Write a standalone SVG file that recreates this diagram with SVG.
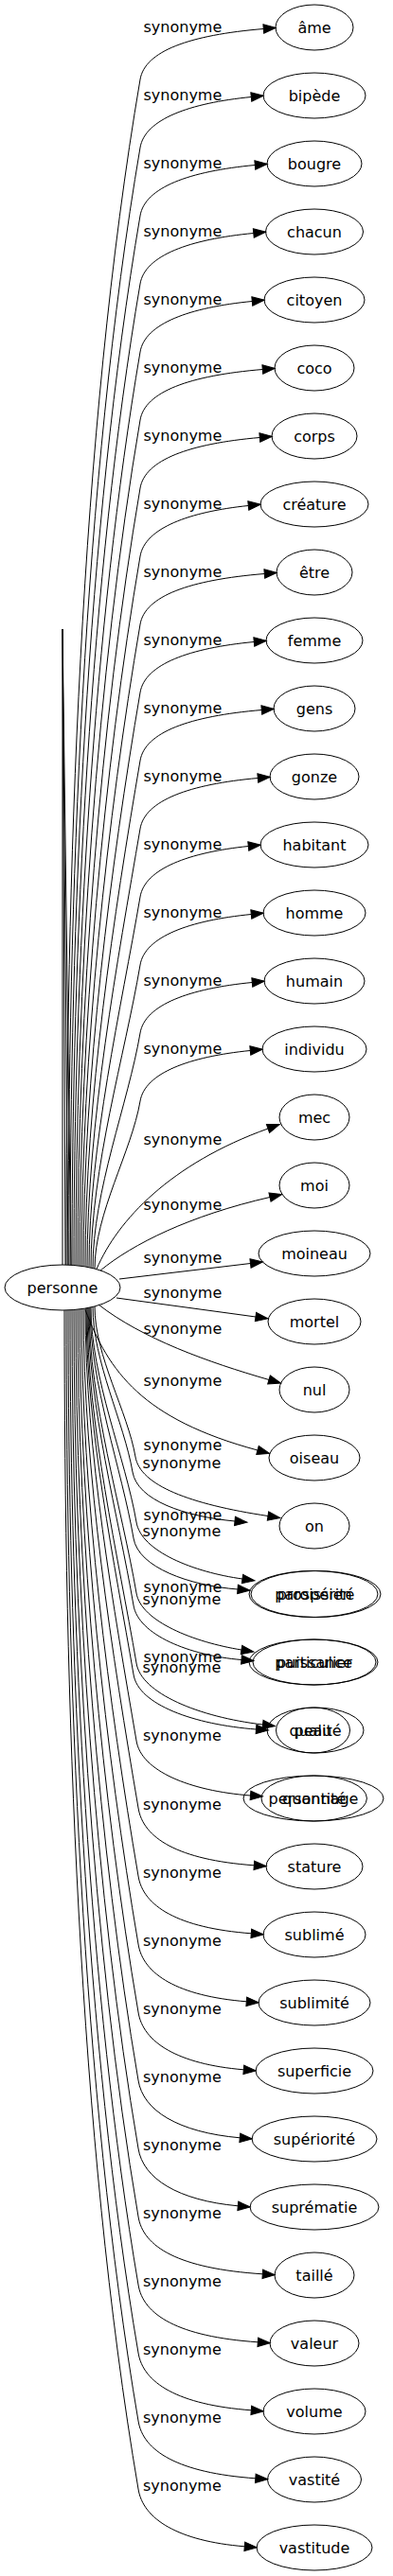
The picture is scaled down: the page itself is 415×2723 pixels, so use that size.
<svg xmlns="http://www.w3.org/2000/svg" width="415" height="2723" viewBox="0 0 415 2723">
<style>
text{font-family:"DejaVu Sans",sans-serif;font-size:16px;fill:#000}
.n ellipse{fill:none;stroke:#000;stroke-width:1}
.n text{text-anchor:middle}
.e{fill:none;stroke:#000;stroke-width:1;marker-end:url(#ah)}
.w{fill:none;stroke:#000;stroke-width:1}
.l{text-anchor:start}
</style>
<defs>
<marker id="ah" viewBox="0 -6 15 12" refX="0" refY="0" markerWidth="15" markerHeight="12" markerUnits="userSpaceOnUse" orient="auto" overflow="visible"><path d="M0,-4.7 L13,0 L0,4.7 z" fill="#000" stroke="#000" stroke-width="1"/></marker>
</defs>
<rect width="415" height="2723" fill="#fff"/>
<g id="connectors">
<path class="w" d="M66,665 L66,1337"/>
<path class="w" d="M66,665 L69,1337"/>
<path class="w" d="M66,665 L72,1337"/>
<path class="w" d="M66,665 L75,1337.3"/>
<path class="e" d="M70,1337 C70,923.5 84.1,459.9 148,84 C153,54 200,37 278.3,30.5"/>
<path class="e" d="M72,1337 C72,947.3 87.8,510.3 148,156 C153,126 200,109 265.3,102.5"/>
<path class="e" d="M74,1337 C74,971 91.4,560.7 148,228 C153,198 200,181 269.3,174.5"/>
<path class="e" d="M76,1337.3 C76,994.8 95.1,611.1 148,300 C153,270 200,253 267.8,246.5"/>
<path class="e" d="M78,1337.5 C78,1018.9 98.8,661.7 148,372 C153,342 200,325 266.3,318.5"/>
<path class="e" d="M80,1337.6 C80,1042.7 102.4,712.1 148,444 C153,414 200,397 277.3,390.5"/>
<path class="e" d="M82,1337.8 C82,1066.6 106.1,762.5 148,516 C153,486 200,469 274.3,462.5"/>
<path class="e" d="M84,1338.1 C84,1090.6 109.7,813 148,588 C153,558 200,541 262.3,534.5"/>
<path class="e" d="M86,1338.3 C86,1114.5 113.4,863.5 148,660 C153,630 200,613 279.3,606.5"/>
<path class="e" d="M88,1338.6 C88,1138.4 117.1,914 148,732 C153,702 200,685 268.3,678.5"/>
<path class="e" d="M90,1338.9 C90,1162.4 120.7,964.5 148,804 C153,774 200,757 276.3,750.5"/>
<path class="e" d="M92,1339.3 C92,1186.4 124.4,1015 148,876 C153,846 200,829 272.3,822.5"/>
<path class="e" d="M94,1339.7 C94,1210.4 128,1065.5 148,948 C153,918 200,901 262.3,894.5"/>
<path class="e" d="M96,1340.1 C96,1234.5 131.7,1116 148,1020 C153,990 200,973 265.3,966.5"/>
<path class="e" d="M98,1340.6 C98,1258.6 135.3,1166.6 148,1092 C153,1062 200,1045 266.3,1038.5"/>
<path class="e" d="M100,1341.1 C100,1282.7 139,1217.1 148,1164 C153,1134 200,1117 264.3,1110.5"/>
<path class="e" d="M102,1341.5 C124,1290 180,1230 283,1193"/>
<path class="e" d="M106,1343 C140,1315 200,1285 285,1265.5"/>
<path class="e" d="M126,1352 L264.5,1335.5"/>
<path class="e" d="M123,1372 L270,1392"/>
<path class="e" d="M104,1379 C150,1415 220,1440 284,1458.5"/>
<path class="e" d="M90,1384.5 C115,1450 150,1500 272,1533"/>
<path class="e" d="M100,1380.9 C100,1433.4 134.9,1492.3 143,1540 C148,1570 200,1590 283,1602.5"/>
<path class="e" d="M98,1381.4 C98,1439 131.1,1503.6 140,1556 C145,1586 195,1603 248,1608"/>
<path class="e" d="M96,1381.9 C96,1456.8 132.4,1540.9 144,1609 C149,1640 205,1662 256,1669"/>
<path class="e" d="M95,1382.1 C95,1462.6 128.6,1552.8 141,1626 C146,1657 200,1676 251,1680"/>
<path class="e" d="M94,1382.3 C94,1481.9 128.6,1593.5 144,1684 C149,1714 205,1736 255,1744"/>
<path class="e" d="M93,1382.5 C93,1486.3 125,1602.6 141,1697 C146,1728 200,1750 255,1754.5"/>
<path class="e" d="M92,1382.7 C92,1506.5 124.9,1645.4 144,1758 C149,1790 210,1815 277.5,1823"/>
<path class="e" d="M91,1382.9 C91,1510.6 121.3,1653.9 141,1770 C146,1802 205,1823 270.5,1828"/>
<path class="e" d="M90,1383.1 C90,1533.9 120.7,1702.9 144,1840 C149,1872 200,1893 264.5,1898"/>
<path class="e" d="M88,1383.4 C88,1557.5 119.1,1752.7 146,1911 C151,1943 188,1966 268.3,1971.8"/>
<path class="e" d="M86,1383.7 C86,1581.5 115.4,1803.2 146,1983 C151,2015 188,2038 265.3,2043.8"/>
<path class="e" d="M84,1383.9 C84,1605.4 111.8,1853.7 146,2055 C151,2087 188,2110 260.3,2115.8"/>
<path class="e" d="M82,1384.2 C82,1629.3 108.1,1904.2 146,2127 C151,2159 188,2182 257.3,2187.8"/>
<path class="e" d="M80,1384.4 C80,1653.2 104.5,1954.6 146,2199 C151,2231 188,2254 253.3,2259.8"/>
<path class="e" d="M78,1384.5 C78,1677 100.8,2005 146,2271 C151,2303 188,2326 251.3,2331.8"/>
<path class="e" d="M76,1384.7 C76,1700.9 97.1,2055.5 146,2343 C151,2375 188,2398 277.3,2403.8"/>
<path class="e" d="M74,1384.8 C74,1724.8 93.5,2105.9 146,2415 C151,2447 188,2470 272.3,2475.8"/>
<path class="e" d="M72,1384.9 C72,1748.6 89.8,2156.4 146,2487 C151,2519 188,2542 265.3,2547.8"/>
<path class="e" d="M70,1385 C70,1772.4 86.1,2206.8 146,2559 C151,2591 188,2614 269.8,2619.8"/>
<path class="e" d="M68,1385 C68,1796.2 82.5,2257.2 146,2631 C151,2663 188,2686 258.3,2691.8"/>
<text class="l" x="151.5" y="34">synonyme</text>
<text class="l" x="151.5" y="106">synonyme</text>
<text class="l" x="151.5" y="178">synonyme</text>
<text class="l" x="151.5" y="250">synonyme</text>
<text class="l" x="151.5" y="322">synonyme</text>
<text class="l" x="151.5" y="394">synonyme</text>
<text class="l" x="151.5" y="466">synonyme</text>
<text class="l" x="151.5" y="538">synonyme</text>
<text class="l" x="151.5" y="610">synonyme</text>
<text class="l" x="151.5" y="682">synonyme</text>
<text class="l" x="151.5" y="754">synonyme</text>
<text class="l" x="151.5" y="826">synonyme</text>
<text class="l" x="151.5" y="898">synonyme</text>
<text class="l" x="151.5" y="970">synonyme</text>
<text class="l" x="151.5" y="1042">synonyme</text>
<text class="l" x="151.5" y="1114">synonyme</text>
<text class="l" x="151.5" y="1210">synonyme</text>
<text class="l" x="151.5" y="1279">synonyme</text>
<text class="l" x="151.5" y="1335">synonyme</text>
<text class="l" x="151.5" y="1372">synonyme</text>
<text class="l" x="151.5" y="1410">synonyme</text>
<text class="l" x="151.5" y="1465">synonyme</text>
<text class="l" x="151.5" y="1533">synonyme</text>
<text class="l" x="150.5" y="1552">synonyme</text>
<text class="l" x="151.5" y="1607">synonyme</text>
<text class="l" x="150.5" y="1624">synonyme</text>
<text class="l" x="151.5" y="1683">synonyme</text>
<text class="l" x="150.5" y="1696">synonyme</text>
<text class="l" x="151.5" y="1757">synonyme</text>
<text class="l" x="150.5" y="1768">synonyme</text>
<text class="l" x="151" y="1840">synonyme</text>
<text class="l" x="151" y="1913">synonyme</text>
<text class="l" x="151" y="1985">synonyme</text>
<text class="l" x="151" y="2057">synonyme</text>
<text class="l" x="151" y="2129">synonyme</text>
<text class="l" x="151" y="2201">synonyme</text>
<text class="l" x="151" y="2273">synonyme</text>
<text class="l" x="151" y="2345">synonyme</text>
<text class="l" x="151" y="2417">synonyme</text>
<text class="l" x="151" y="2489">synonyme</text>
<text class="l" x="151" y="2561">synonyme</text>
<text class="l" x="151" y="2633">synonyme</text>
</g>
<g id="personne" class="n"><ellipse cx="66" cy="1361" rx="61" ry="24"/><text x="66" y="1366.5">personne</text></g>
<g id="ame" class="n"><ellipse cx="332" cy="29" rx="41" ry="24"/><text x="332" y="34.5">âme</text></g>
<g id="bipede" class="n"><ellipse cx="332" cy="101" rx="54" ry="24"/><text x="332" y="106.5">bipède</text></g>
<g id="bougre" class="n"><ellipse cx="332" cy="173" rx="50" ry="24"/><text x="332" y="178.5">bougre</text></g>
<g id="chacun" class="n"><ellipse cx="332" cy="245" rx="51.5" ry="24"/><text x="332" y="250.5">chacun</text></g>
<g id="citoyen" class="n"><ellipse cx="332" cy="317" rx="53" ry="24"/><text x="332" y="322.5">citoyen</text></g>
<g id="coco" class="n"><ellipse cx="332" cy="389" rx="42" ry="24"/><text x="332" y="394.5">coco</text></g>
<g id="corps" class="n"><ellipse cx="332" cy="461" rx="45" ry="24"/><text x="332" y="466.5">corps</text></g>
<g id="creature" class="n"><ellipse cx="332" cy="533" rx="57" ry="24"/><text x="332" y="538.5">créature</text></g>
<g id="etre" class="n"><ellipse cx="332" cy="605" rx="40" ry="24"/><text x="332" y="610.5">être</text></g>
<g id="femme" class="n"><ellipse cx="332" cy="677" rx="51" ry="24"/><text x="332" y="682.5">femme</text></g>
<g id="gens" class="n"><ellipse cx="332" cy="749" rx="43" ry="24"/><text x="332" y="754.5">gens</text></g>
<g id="gonze" class="n"><ellipse cx="332" cy="821" rx="47" ry="24"/><text x="332" y="826.5">gonze</text></g>
<g id="habitant" class="n"><ellipse cx="332" cy="893" rx="57" ry="24"/><text x="332" y="898.5">habitant</text></g>
<g id="homme" class="n"><ellipse cx="332" cy="965" rx="54" ry="24"/><text x="332" y="970.5">homme</text></g>
<g id="humain" class="n"><ellipse cx="332" cy="1037" rx="53" ry="24"/><text x="332" y="1042.5">humain</text></g>
<g id="individu" class="n"><ellipse cx="332" cy="1109" rx="55" ry="24"/><text x="332" y="1114.5">individu</text></g>
<g id="mec" class="n"><ellipse cx="332" cy="1181" rx="37" ry="24"/><text x="332" y="1186.5">mec</text></g>
<g id="moi" class="n"><ellipse cx="332" cy="1253" rx="37" ry="24"/><text x="332" y="1258.5">moi</text></g>
<g id="moineau" class="n"><ellipse cx="332" cy="1325" rx="59" ry="24"/><text x="332" y="1330.5">moineau</text></g>
<g id="mortel" class="n"><ellipse cx="332" cy="1397" rx="49" ry="24"/><text x="332" y="1402.5">mortel</text></g>
<g id="nul" class="n"><ellipse cx="332" cy="1469" rx="37" ry="24"/><text x="332" y="1474.5">nul</text></g>
<g id="oiseau" class="n"><ellipse cx="332" cy="1541" rx="48" ry="24"/><text x="332" y="1546.5">oiseau</text></g>
<g id="on" class="n"><ellipse cx="332" cy="1613" rx="37" ry="24"/><text x="332" y="1618.5">on</text></g>
<g id="paroissien" class="n"><ellipse cx="331" cy="1685" rx="68" ry="24.5"/><text x="331" y="1690.5">paroissien</text></g>
<g id="prosperite" class="n"><ellipse cx="333.5" cy="1685" rx="68.5" ry="24.5"/><text x="333.5" y="1690.5">prospérité</text></g>
<g id="particulier" class="n"><ellipse cx="331" cy="1757" rx="68" ry="24"/><text x="331" y="1762.5">particulier</text></g>
<g id="puissance" class="n"><ellipse cx="332" cy="1757" rx="65" ry="24"/><text x="332" y="1762.5">puissance</text></g>
<g id="qualite" class="n"><ellipse cx="333" cy="1829" rx="51" ry="24"/><text x="333" y="1834.5">qualité</text></g>
<g id="peau" class="n"><ellipse cx="330.5" cy="1829" rx="39" ry="24"/><text x="330.5" y="1834.5">peau</text></g>
<g id="personnage" class="n"><ellipse cx="331" cy="1901" rx="74" ry="24"/><text x="331" y="1906.5">personnage</text></g>
<g id="quantite" class="n"><ellipse cx="331.7" cy="1901" rx="55.7" ry="24"/><text x="331.7" y="1906.5">quantité</text></g>
<g id="stature" class="n"><ellipse cx="332" cy="1973" rx="51" ry="24"/><text x="332" y="1978.5">stature</text></g>
<g id="sublime" class="n"><ellipse cx="332" cy="2045" rx="54" ry="24"/><text x="332" y="2050.5">sublimé</text></g>
<g id="sublimite" class="n"><ellipse cx="332" cy="2117" rx="59" ry="24"/><text x="332" y="2122.5">sublimité</text></g>
<g id="superficie" class="n"><ellipse cx="332" cy="2189" rx="62" ry="24"/><text x="332" y="2194.5">superficie</text></g>
<g id="superiorite" class="n"><ellipse cx="332" cy="2261" rx="66" ry="24"/><text x="332" y="2266.5">supériorité</text></g>
<g id="suprematie" class="n"><ellipse cx="332" cy="2333" rx="68" ry="24"/><text x="332" y="2338.5">suprématie</text></g>
<g id="taille" class="n"><ellipse cx="332" cy="2405" rx="42" ry="24"/><text x="332" y="2410.5">taillé</text></g>
<g id="valeur" class="n"><ellipse cx="332" cy="2477" rx="47" ry="24"/><text x="332" y="2482.5">valeur</text></g>
<g id="volume" class="n"><ellipse cx="332" cy="2549" rx="54" ry="24"/><text x="332" y="2554.5">volume</text></g>
<g id="vastite" class="n"><ellipse cx="332" cy="2621" rx="49.5" ry="24"/><text x="332" y="2626.5">vastité</text></g>
<g id="vastitude" class="n"><ellipse cx="332" cy="2693" rx="61" ry="24"/><text x="332" y="2698.5">vastitude</text></g>
</svg>
